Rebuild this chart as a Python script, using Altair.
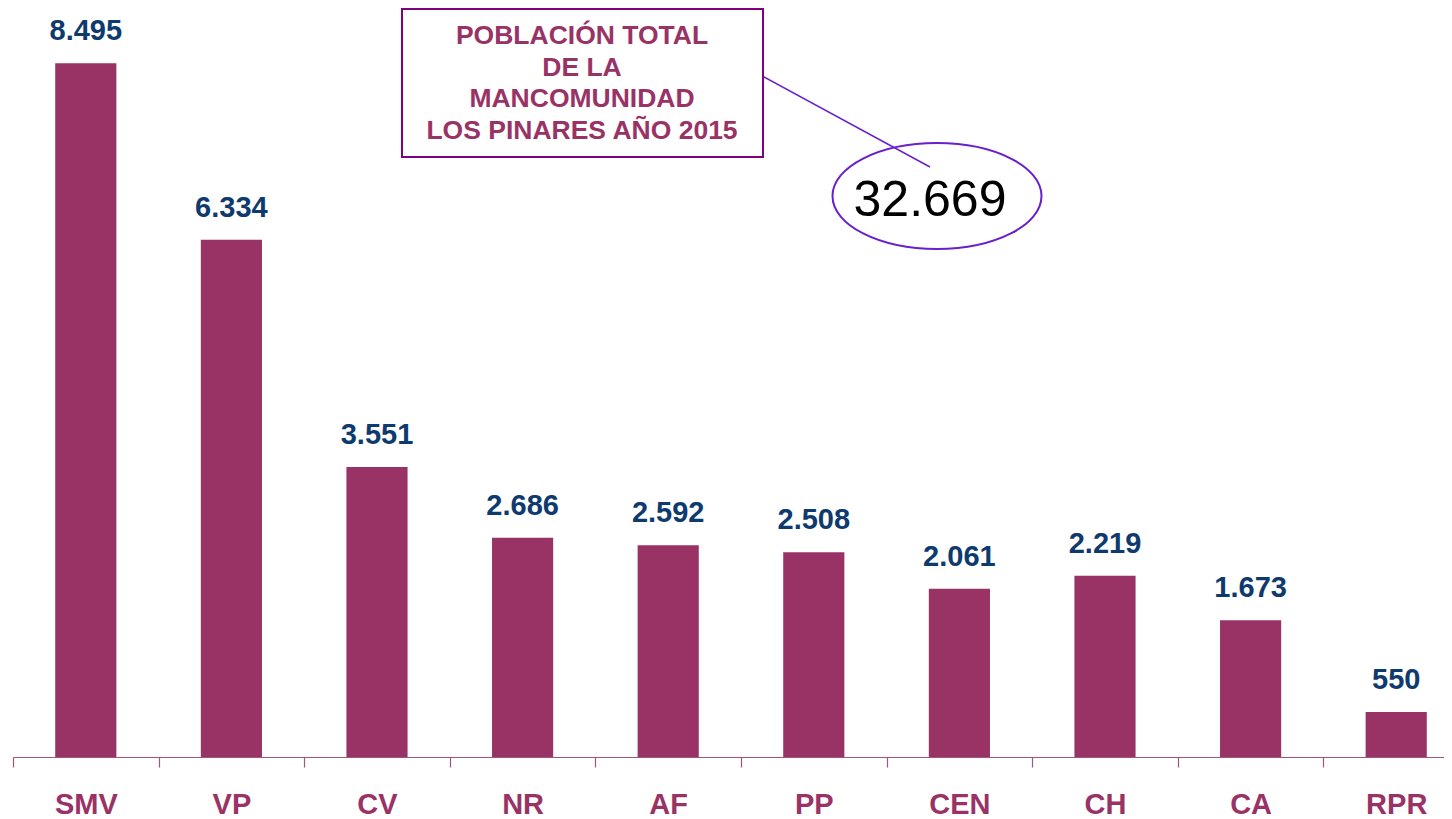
import altair as alt
import pandas as pd

categories = ["SMV", "VP", "CV", "NR", "AF", "PP", "CEN", "CH", "CA", "RPR"]
population = [8495, 6334, 3551, 2686, 2592, 2508, 2061, 2219, 1673, 550]
total_population = 32669
title_lines = ["POBLACIÓN TOTAL", "DE LA", "MANCOMUNIDAD", "LOS PINARES AÑO 2015"]


def fmt(v):
    return f"{v:,}".replace(",", ".")


df = pd.DataFrame({
    "cat": categories,
    "pop": population,
    "label": [fmt(v) for v in population],
})

FONT = "Liberation Sans"
MAROON = "#993366"
NAVY = "#0E3A6E"

x_enc = alt.X(
    "cat:N",
    sort=categories,
    scale=alt.Scale(range=[0, 1456], paddingInner=0, paddingOuter=0),
    axis=alt.Axis(
        title=None,
        labelAngle=0,
        labelFont=FONT,
        labelFontSize=29,
        labelFontWeight="bold",
        labelColor=MAROON,
        labelPadding=23,
        tickBand="extent",
        tickSize=10,
        tickColor="#A0557E",
        domainColor="#A0557E",
        domainWidth=1.2,
        tickWidth=1.2,
    ),
)
y_enc = alt.Y("pop:Q", scale=alt.Scale(domain=[0, 9000]), axis=None)

base = alt.Chart(df)
bars = base.mark_bar(color=MAROON, width=alt.RelativeBandSize(0.42)).encode(x=x_enc, y=y_enc)
values = base.mark_text(
    font=FONT, fontSize=29, fontWeight="bold", color=NAVY, baseline="alphabetic", dy=-23
).encode(x=x_enc, y=y_enc, text="label:N")

one = pd.DataFrame({"k": [0]})
ann = alt.Chart(one)

box = ann.mark_rect(fill="white", stroke="#800080", strokeWidth=2).encode(
    x=alt.value(389), x2=alt.value(750), y=alt.value(-13), y2=alt.value(135)
)
box_text = ann.mark_text(
    text=title_lines, font=FONT, fontSize=26.5, fontWeight="bold", color=MAROON,
    align="center", baseline="top", lineHeight=31.7,
).encode(x=alt.value(569), y=alt.value(1))

connector = ann.mark_rule(color="#6A1FCF", strokeWidth=1.5).encode(
    x=alt.value(742), x2=alt.value(917), y=alt.value(50), y2=alt.value(145)
)
ellipse = ann.mark_point(
    shape="M-1,0A1,0.507,0,1,1,1,0A1,0.507,0,1,1,-1,0Z",
    size=209 * 209, filled=False, stroke="#6A1FCF", strokeWidth=2, opacity=1,
).encode(x=alt.value(924), y=alt.value(174))
total_text = ann.mark_text(
    text=fmt(total_population), font=FONT, fontSize=50, color="black",
    align="center", baseline="alphabetic",
).encode(x=alt.value(917), y=alt.value(194))

chart = alt.layer(bars, values, connector, box, box_text, ellipse, total_text).properties(
    width=1431,
    height=735,
    padding={"left": 5, "top": 14, "right": 0, "bottom": 62},
    autosize=alt.AutoSizeParams(type="none"),
    background="white",
).configure_view(strokeWidth=0)

chart.save("out.html", embed_options={"renderer": "svg", "actions": False})
